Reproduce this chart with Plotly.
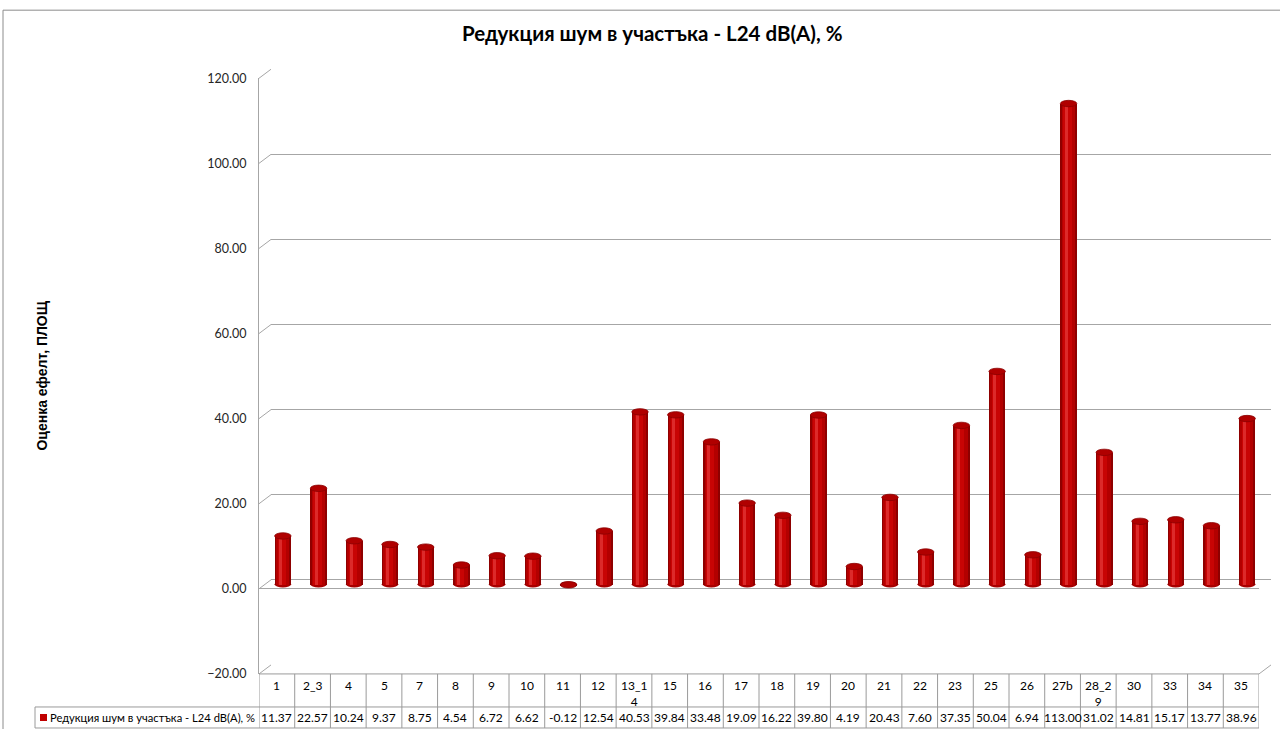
import plotly.graph_objects as go

# Noise-reduction values per plot section
categories = ["1", "2_3", "4", "5", "7", "8", "9", "10", "11", "12", "13_14", "15",
              "16", "17", "18", "19", "20", "21", "22", "23", "25", "26", "27b",
              "28_29", "30", "33", "34", "35"]
values = [11.37, 22.57, 10.24, 9.37, 8.75, 4.54, 6.72, 6.62, -0.12, 12.54, 40.53, 39.84,
          33.48, 19.09, 16.22, 39.80, 4.19, 20.43, 7.60, 37.35, 50.04, 6.94, 113.00,
          31.02, 14.81, 15.17, 13.77, 38.96]
series_name = "Редукция шум в участъка - L24 dB(A), %"
title_text = "Редукция шум в участъка - L24 dB(A), %"
y_title = "Оценка ефелт, ПЛОЩ"
y_min, y_max, y_step = -20, 120, 20

# figure size; the page adds an 8px top margin and is shown 745px tall in 729px
W, H = 1280, 737
TOP_OFF = 8
V_SCALE = 729 / 745
FONT = "Lato"
GRID = "#A6A6A6"
BORDER = "#9A9A9A"


def px(x):
    return x / W


def py(y):
    return 1 - (y / V_SCALE - TOP_OFF) / H


# Pixel geometry of the pseudo-3D box (screen coordinates)
FRONT_L, FRONT_R = 259, 1259
Y_TOP, Y_BOT = 78, 673          # front edge: 120 -> 78, -20 -> 673
DX, DY = 12, -9                 # depth offset of the back wall
ROW1_B, ROW2_B = 706, 727       # table row bottoms
LEG_L = 35

n = len(categories)
xr = [-0.5, n - 0.5]


def y_front(v):
    return Y_BOT - (v - y_min) * (Y_BOT - Y_TOP) / (y_max - y_min)


fig = go.Figure()

# back wall (gridlines) on x/y
fig.add_trace(go.Scatter(x=[0], y=[0], xaxis="x", yaxis="y", mode="markers",
                         marker=dict(opacity=0), hoverinfo="skip", showlegend=False))
# front axis (tick labels, axis line, floor edge) on x2/y2
fig.add_trace(go.Scatter(x=[0], y=[0], xaxis="x2", yaxis="y2", mode="markers",
                         marker=dict(opacity=0), hoverinfo="skip", showlegend=False))

# cylinders on x3/y3 (halfway into the depth)
cyl_w = 0.46
layers = [
    (cyl_w, 0.0, "#8E0000"),
    (cyl_w * 0.80, -0.01, "#B30000"),
    (cyl_w * 0.50, -0.03, "#C80404"),
    (cyl_w * 0.18, -0.07, "#DC2A2A"),
]
for w, off, col in layers:
    fig.add_trace(go.Bar(
        x=list(range(n)), y=values, xaxis="x3", yaxis="y3",
        width=w, offset=[-w / 2 + off] * n,
        marker=dict(color=col, line=dict(width=0)),
        hoverinfo="skip", showlegend=False,
    ))

shapes = []
annotations = []

# elliptical tops and bottoms of the cylinders
cap_h = 0.75
for i, v in enumerate(values):
    shapes.append(dict(type="circle", xref="x3", yref="y3", layer="between",
                       x0=i - cyl_w / 2, x1=i + cyl_w / 2, y0=-cap_h, y1=cap_h,
                       fillcolor="#A80000", line=dict(width=0)))
    shapes.append(dict(type="circle", xref="x3", yref="y3", layer="above",
                       x0=i - cyl_w / 2, x1=i + cyl_w / 2, y0=v - cap_h, y1=v + cap_h,
                       fillcolor="#B00000", line=dict(color="#8A0000", width=0.8)))

# left diagonals joining the front axis to the back wall at every tick
for v in range(y_min, y_max + 1, y_step):
    yf = y_front(v)
    shapes.append(dict(type="line", xref="paper", yref="paper",
                       x0=px(FRONT_L), y0=py(yf), x1=px(FRONT_L + DX), y1=py(yf + DY),
                       line=dict(color=GRID, width=1)))
# right diagonal at the floor of the table
shapes.append(dict(type="line", xref="paper", yref="paper",
                   x0=px(FRONT_R), y0=py(Y_BOT), x1=px(FRONT_R + DX), y1=py(Y_BOT + DY),
                   line=dict(color=GRID, width=1)))

# data table grid
shapes.append(dict(type="line", xref="x2", yref="paper", x0=xr[0], x1=xr[1],
                   y0=py(Y_BOT), y1=py(Y_BOT), line=dict(color=BORDER, width=1)))
for yy in (ROW1_B, ROW2_B):
    shapes.append(dict(type="line", xref="paper", yref="paper", x0=px(LEG_L), x1=px(FRONT_R),
                       y0=py(yy), y1=py(yy), line=dict(color=BORDER, width=1)))
for k in range(n + 1):
    shapes.append(dict(type="line", xref="x2", yref="paper", x0=k - 0.5, x1=k - 0.5,
                       y0=py(Y_BOT), y1=py(ROW2_B), line=dict(color=BORDER, width=1)))
shapes.append(dict(type="line", xref="paper", yref="paper", x0=px(LEG_L), x1=px(LEG_L),
                   y0=py(ROW1_B), y1=py(ROW2_B), line=dict(color=BORDER, width=1)))

# legend key
shapes.append(dict(type="rect", xref="paper", yref="paper",
                   x0=px(40), x1=px(47), y0=py(720), y1=py(713),
                   fillcolor="#C00000", line=dict(width=0)))

# outer chart border
shapes.append(dict(type="rect", xref="paper", yref="paper",
                   x0=px(3), x1=1.01, y0=-0.05, y1=py(10),
                   line=dict(color="#8C8C8C", width=1)))


def wrap(label, size=4):
    return label if len(label) <= size else label[:size] + "<br>" + label[size:]


for i, c in enumerate(categories):
    annotations.append(dict(xref="x2", yref="paper", x=i, y=py(675), yanchor="top",
                            text=wrap(c), showarrow=False,
                            font=dict(family=FONT, size=12, color="#000000")))
for i, v in enumerate(values):
    annotations.append(dict(xref="x2", yref="paper", x=i, y=py(716.5), yanchor="middle",
                            text=f"{v:.2f}", showarrow=False,
                            font=dict(family=FONT, size=12, color="#000000")))
annotations.append(dict(xref="paper", yref="paper", x=px(48), y=py(716.5),
                        xanchor="left", yanchor="middle", text=series_name, showarrow=False,
                        font=dict(family=FONT, size=11.2, color="#000000")))

# chart title and value-axis title
annotations.append(dict(xref="paper", yref="paper", x=px(652), y=py(33),
                        xanchor="center", yanchor="middle", text=f"<b>{title_text}</b>",
                        showarrow=False, font=dict(family=FONT, size=20.5, color="#000000")))
annotations.append(dict(xref="paper", yref="paper", x=px(42), y=py(375),
                        xanchor="center", yanchor="middle", text=f"<b>{y_title}</b>",
                        textangle=-90, showarrow=False,
                        font=dict(family="Liberation Sans", size=14, color="#000000")))

hidden_x = dict(range=xr, visible=False, fixedrange=True)

fig.update_layout(
    width=W, height=H,
    margin=dict(l=0, r=0, t=0, b=0),
    paper_bgcolor="white", plot_bgcolor="rgba(0,0,0,0)",
    barmode="overlay", bargap=0,
    showlegend=False,
    xaxis=dict(domain=[px(FRONT_L + DX), px(FRONT_R + DX)], anchor="y", **hidden_x),
    yaxis=dict(domain=[py(Y_BOT + DY), py(Y_TOP + DY)], anchor="x",
               range=[y_min, y_max], dtick=y_step, tick0=y_min,
               showgrid=True, gridcolor=GRID, gridwidth=1, zeroline=False,
               showticklabels=False, showline=False, fixedrange=True),
    xaxis2=dict(domain=[px(FRONT_L), px(FRONT_R)], anchor="y2", **hidden_x),
    yaxis2=dict(domain=[py(Y_BOT), py(Y_TOP)], anchor="x2",
                range=[y_min, y_max], dtick=y_step, tick0=y_min,
                tickformat=".2f", ticks="", ticklabelstandoff=9,
                tickfont=dict(family=FONT, size=12.5, color="#262626"),
                showgrid=False, zeroline=True, zerolinecolor=GRID, zerolinewidth=1,
                showline=True, linecolor=GRID, linewidth=1, fixedrange=True),
    xaxis3=dict(domain=[px(FRONT_L + DX / 2), px(FRONT_R + DX / 2)], anchor="y3", **hidden_x),
    yaxis3=dict(domain=[py(Y_BOT + DY / 2), py(Y_TOP + DY / 2)], anchor="x3",
                range=[y_min, y_max], visible=False, fixedrange=True),
    shapes=shapes,
    annotations=annotations,
)

fig.write_html("out.html")
